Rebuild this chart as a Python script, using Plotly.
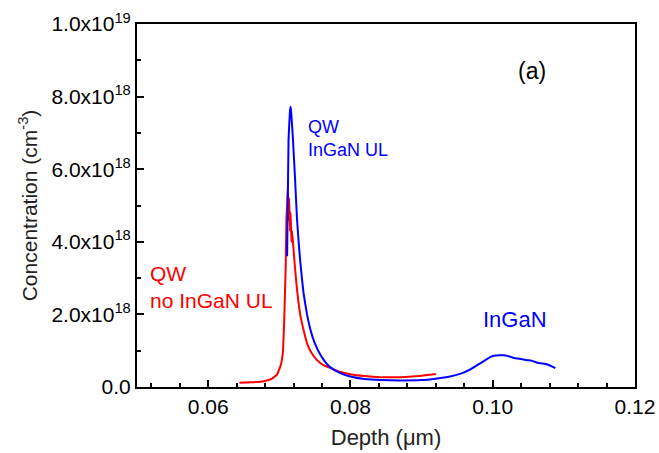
import plotly.graph_objects as go

# Red: QW, no InGaN UL
red_x = [0.0644, 0.0660, 0.0678, 0.0690, 0.0697, 0.0702, 0.0705, 0.0707, 0.0709, 0.0710,
         0.0711, 0.0712, 0.0713, 0.0714, 0.0715, 0.0716, 0.0717, 0.0718, 0.0720, 0.0722,
         0.0725, 0.0730, 0.0735, 0.0739, 0.0745, 0.0753, 0.0762, 0.0772, 0.0785, 0.0800,
         0.0820, 0.0842, 0.0870, 0.0895, 0.0912, 0.0920]
red_y = [1.2e17, 1.3e17, 1.6e17, 2.3e17, 3.5e17, 6.0e17, 9.5e17, 1.9e18, 3.3e18, 4.6e18,
         5.0e18, 5.5e18, 4.6e18, 5.2e18, 4.3e18, 4.8e18, 4.0e18, 4.3e18, 3.8e18, 3.3e18,
         2.67e18, 1.93e18, 1.5e18, 1.2e18, 9.5e17, 7.4e17, 6.0e17, 5.2e17, 4.2e17, 3.5e17,
         3.0e17, 2.7e17, 2.7e17, 3.0e17, 3.4e17, 3.6e17]

# Blue: QW with InGaN UL
blue_x = [0.0711, 0.0713, 0.0715, 0.0716, 0.0717, 0.0719, 0.0722, 0.0725, 0.0728, 0.0730,
          0.0734, 0.0739, 0.0744, 0.0750, 0.0758, 0.0765, 0.0772, 0.0785, 0.0800, 0.0820,
          0.0842, 0.0870, 0.0900, 0.0920, 0.0940, 0.0955, 0.0968, 0.0978, 0.0988, 0.0997,
          0.1004, 0.1010, 0.1015, 0.1022, 0.1030, 0.1038, 0.1048, 0.1055, 0.1063, 0.1070,
          0.1077, 0.1083, 0.1088]
blue_y = [3.6e18, 6.8e18, 7.6e18, 7.72e18, 7.5e18, 6.9e18, 5.8e18, 4.6e18, 3.8e18, 3.35e18,
          2.6e18, 2.0e18, 1.56e18, 1.2e18, 8.8e17, 6.8e17, 5.4e17, 3.9e17, 2.9e17, 2.2e17,
          1.9e17, 1.8e17, 1.9e17, 2.3e17, 2.9e17, 3.7e17, 4.8e17, 6.0e17, 7.2e17, 8.3e17,
          8.7e17, 8.75e17, 8.75e17, 8.5e17, 8.0e17, 7.8e17, 7.4e17, 7.2e17, 6.7e17, 6.5e17,
          6.2e17, 5.7e17, 5.2e17]

x_tickvals = [0.06, 0.08, 0.10, 0.12]
x_ticktext = ["0.06", "0.08", "0.10", "0.12"]
y_tickvals = [0, 2e18, 4e18, 6e18, 8e18, 1e19]
y_ticktext = ["0.0", "2.0x10<sup>18</sup>", "4.0x10<sup>18</sup>", "6.0x10<sup>18</sup>",
              "8.0x10<sup>18</sup>", "1.0x10<sup>19</sup>"]

FONT = "Liberation Sans, Arial, sans-serif"

fig = go.Figure()
fig.add_trace(go.Scatter(x=red_x, y=red_y, mode="lines",
                         line=dict(color="#ff0000", width=2, shape="spline", smoothing=0.3),
                         showlegend=False))
fig.add_trace(go.Scatter(x=blue_x, y=blue_y, mode="lines",
                         line=dict(color="#0000ff", width=2, shape="spline", smoothing=0.3),
                         showlegend=False))

axis_common = dict(showline=True, linecolor="black", linewidth=2, mirror=True,
                   ticks="inside", ticklen=7, tickwidth=1.5, tickcolor="black",
                   showgrid=False, zeroline=False, automargin=False,
                   tickfont=dict(family=FONT, size=21, color="black"))

fig.update_xaxes(range=[0.05, 0.12], tickvals=x_tickvals, ticktext=x_ticktext,
                 minor=dict(ticks="inside", ticklen=4, tickwidth=1.5, tickcolor="black",
                            dtick=0.004, tick0=0.0),
                 title=dict(text="Depth (\u03bcm)", font=dict(family=FONT, size=22, color="#222"),
                            standoff=12),
                 **axis_common)
fig.update_yaxes(range=[0, 1e19], tickvals=y_tickvals, ticktext=y_ticktext,
                 minor=dict(ticks="inside", ticklen=4, tickwidth=1.5, tickcolor="black",
                            dtick=1e18, tick0=0),
                 title=dict(text="Concentration (cm<sup>-3</sup>)",
                            font=dict(family=FONT, size=21, color="#222"), standoff=8),
                 **axis_common)

fig.add_annotation(x=0.0738, y=6.85e18, xref="x", yref="y", text="QW<br>InGaN UL",
                   showarrow=False, xanchor="left", yanchor="middle", align="left",
                   font=dict(family=FONT, size=18, color="#0000ff"))
fig.add_annotation(x=0.0516, y=2.75e18, xref="x", yref="y", text="QW<br>no InGaN UL",
                   showarrow=False, xanchor="left", yanchor="middle", align="left",
                   font=dict(family=FONT, size=21, color="#ff0000"))
fig.add_annotation(x=0.1031, y=1.85e18, xref="x", yref="y", text="InGaN",
                   showarrow=False, xanchor="center", yanchor="middle",
                   font=dict(family=FONT, size=22, color="#0000ff"))
fig.add_annotation(x=0.1055, y=8.7e18, xref="x", yref="y", text="(a)",
                   showarrow=False, xanchor="center", yanchor="middle",
                   font=dict(family=FONT, size=23, color="black"))

fig.update_layout(width=659, height=453,
                  margin=dict(l=137, r=24, t=24, b=66),
                  plot_bgcolor="white", paper_bgcolor="white",
                  font=dict(family=FONT))

fig.write_html("out.html")
